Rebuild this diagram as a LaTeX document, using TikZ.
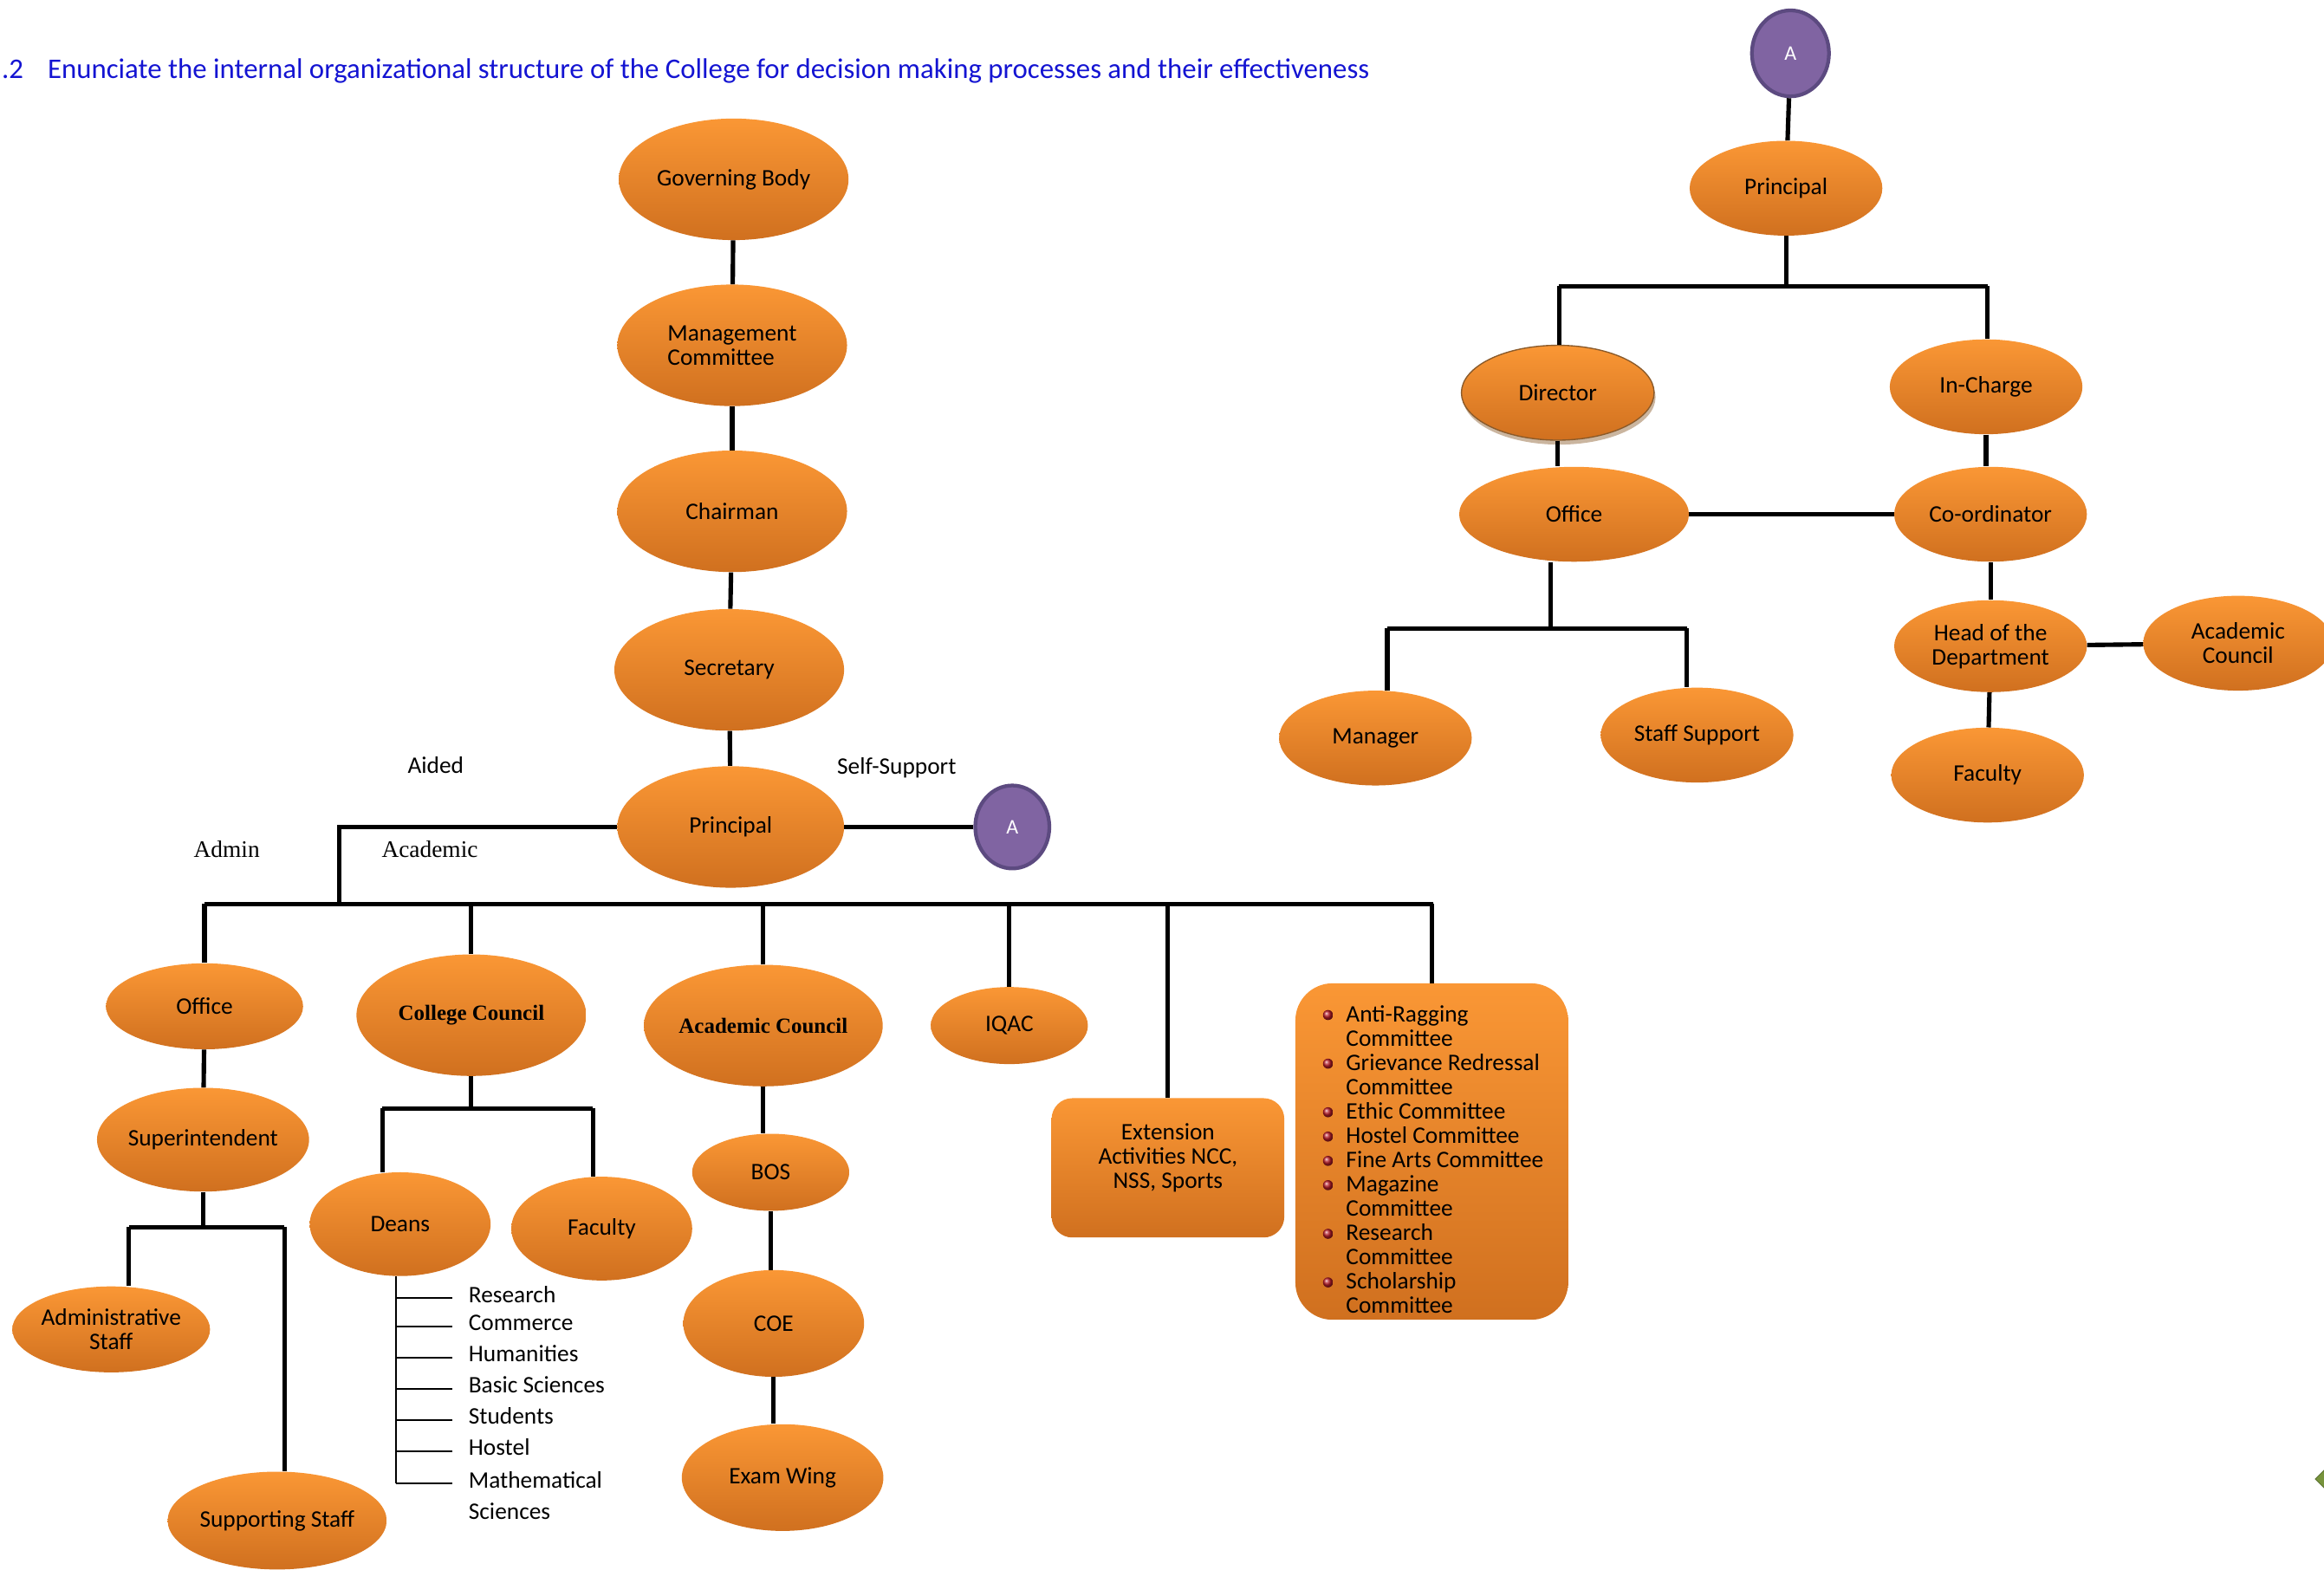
\documentclass[tikz,border=0pt]{standalone}
\usepackage{fontspec}
\setmainfont{Carlito}
\newfontfamily\serifface{Liberation Serif}
\usetikzlibrary{shapes.geometric,shadows,calc}
\definecolor{ortop}{HTML}{FA9735}
\definecolor{orbot}{HTML}{D0701F}
\definecolor{apurple}{HTML}{8064A2}
\definecolor{aedge}{HTML}{5C4A80}
\definecolor{titleblue}{HTML}{1414D2}
\definecolor{bulred}{HTML}{B81C28}
\definecolor{olive}{HTML}{77933C}
\definecolor{diredge}{HTML}{8A5A2A}
\newcommand{\lblsize}{\fontsize{16}{16.4}\selectfont}

\begin{document}
\begin{tikzpicture}[
  x=1pt, y=-1pt,
  font=\lblsize,
  conn/.style={line width=3pt, draw=black},
  thinconn/.style={line width=1.2pt, draw=black},
  oval/.style 2 args={ellipse, top color=ortop, bottom color=orbot, draw=none,
    inner sep=0pt, align=center, minimum width=#1pt, minimum height=#2pt},
  orbox/.style={rectangle, top color=ortop, bottom color=orbot, draw=none, align=center},
  anode/.style={ellipse, fill=apurple, draw=aedge, line width=2.5pt, text=white,
    font=\fontsize{14}{14}\selectfont, inner sep=0pt},
  serifcap/.style={font=\serifface\lblsize},
  boldcap/.style={font=\serifface\bfseries\fontsize{14.6}{15}\selectfont},
  headline/.style={text=titleblue, inner sep=0pt, font=\fontsize{19.2}{20}\selectfont},
  deanitem/.style={anchor=west, inner sep=0pt, text height=1.5ex, text depth=0.3ex},
]
\useasboundingbox (0,0) rectangle (1568,1059);

% heading
\node[headline, anchor=base east] (secno) at (16,53) {.2};
\node[headline, anchor=base west] (title) at (32,53)
  {Enunciate the internal organizational structure of the College for decision making processes and their effectiveness};

% aided chain
\node[oval={155}{82}] (gb) at (495,121) {Governing Body};
\node[oval={155}{82}, align=left] (mc) at (494,233) {Management\\Committee};
\node[oval={155}{82}] (chair) at (494,345) {Chairman};
\node[oval={155}{82}] (sec) at (492,452) {Secretary};
\node[oval={153}{82}] (prin) at (493,558) {Principal};
\node[anode, minimum width=50pt, minimum height=56pt] (aself) at (683,558) {A};
\draw[conn] (gb) -- (mc);
\draw[conn] (mc) -- (chair);
\draw[conn] (chair) -- (sec);
\draw[conn] (sec) -- (prin);
\draw[conn] (prin) -- (aself);

\node (aided) at (294,516) {Aided};
\node (selfsup) at (605,518) {Self-Support};
\node[serifcap] (admin) at (153,573) {Admin};
\node[serifcap] (acad) at (290,573) {Academic};

\coordinate (jprin) at (229,610);
\coordinate (busL) at (138,610);
\coordinate (busR) at (967,610);
\draw[conn] (prin.west) -| (jprin);
\draw[conn] (busL) -- (busR);

% first row under the bus
\node[oval={133}{58}] (aofc) at (138,679) {Office};
\node[oval={155}{82}, boldcap] (cc) at (318,685) {College Council};
\node[oval={155}{82}, boldcap] (acc) at (515,692) {Academic Council};
\node[oval={106}{52}] (iqac) at (681,692) {IQAC};
\node[orbox, rounded corners=14pt, minimum width=157pt, minimum height=94pt] (ext) at (788,788)
  {Extension\\Activities NCC,\\NSS, Sports\\\mbox{}};
\node[orbox, rounded corners=25pt, minimum width=184pt, minimum height=227pt] (com) at (966,777) {};
\foreach \n in {aofc,cc,acc,iqac,ext,com}
  \draw[conn] (\n.north) -- (\n.north |- busL);

% admin side
\node[oval={133}{70}] (supt) at (137,769) {Superintendent};
\draw[conn] (aofc) -- (supt);
\coordinate (sbus) at (137,828);
\coordinate (sbusL) at (87,828);
\coordinate (sbusR) at (192,828);
\draw[conn] (supt.south) -- (sbus);
\draw[conn] (sbusL) -- (sbusR);
\node[oval={132}{58}] (adst) at (75,897) {Administrative\\Staff};
\node[oval={132}{66}] (supst) at (187,1026) {Supporting Staff};
\draw[conn] (sbusL) -- (sbusL |- adst.north);
\draw[conn] (sbusR) -- (sbusR |- supst.north);

% college council
\coordinate (cbus) at (318,748);
\coordinate (cbusL) at (258,748);
\coordinate (cbusR) at (400,748);
\draw[conn] (cc.south) -- (cbus);
\draw[conn] (cbusL) -- (cbusR);
\node[oval={122}{70}] (deans) at (270,826) {Deans};
\node[oval={122}{70}] (fac) at (406,829) {Faculty};
\draw[conn] (cbusL) -- (cbusL |- deans.north);
\draw[conn] (cbusR) -- (cbusR |- fac.north);

\coordinate (dstem) at (267,1001);
\draw[thinconn] (dstem |- deans.south) -- (dstem);
\foreach \t/\yy [count=\i] in {Research/876, Commerce/895, Humanities/916, Basic Sciences/937,
    Students/958, Hostel/979, Mathematical/1001} {
  \node[deanitem] (dl\i) at (316,\yy) {\t};
  \draw[thinconn] (dstem |- dl\i.west) -- ([xshift=-11pt]dl\i.west);
}
\node[deanitem] (dl8) at (316,1022) {Sciences};

% academic council
\node[oval={106}{52}] (bos) at (520,791) {BOS};
\node[oval={122}{72}] (coe) at (522,893) {COE};
\node[oval={136}{72}] (exam) at (528,997) {Exam Wing};
\draw[conn] (acc.south) -- (acc.south |- bos.north);
\draw[conn] (bos.south) -- (bos.south |- coe.north);
\draw[conn] (coe.south) -- (coe.south |- exam.north);

% committees
\foreach \t/\b [count=\i] in {Anti-Ragging/1, Committee/0, Grievance Redressal/1, Committee/0,
    Ethic Committee/1, Hostel Committee/1, Fine Arts Committee/1, Magazine/1, Committee/0,
    Research/1, Committee/0, Scholarship/1, Committee/0} {
  \node[anchor=base west, inner sep=0pt] (cl\i) at (908,{673+16.4*\i}) {\t};
  \ifnum\b=1 \shade[ball color=bulred] ($(cl\i.base west)+(-12,-4.5)$) circle (3.4); \fi
}

% self-support side
\node[anode, minimum width=52pt, minimum height=58pt] (atop) at (1208,36) {A};
\node[oval={130}{64}] (rprin) at (1205,127) {Principal};
\draw[conn] (atop) -- (rprin);
\coordinate (rbus) at (1204,193);
\coordinate (rbusL) at (1052,193);
\coordinate (rbusR) at (1341,193);
\draw[conn] (rprin.south) -- (rprin.south |- rbus);
\draw[conn] (rbusL) -- (rbusR);
\node[oval={130}{64}, draw=diredge, line width=0.8pt,
  drop shadow={opacity=0.45, shadow xshift=1pt, shadow yshift=-3pt, fill=diredge}] (dir) at (1051,265) {Director};
\node[oval={130}{64}] (inch) at (1340,261) {In-Charge};
\draw[conn] (rbusL) -- (rbusL |- dir.north);
\draw[conn] (rbusR) -- (rbusR |- inch.north);
\node[oval={155}{64}] (rofc) at (1062,347) {Office};
\node[oval={130}{64}] (coord) at (1343,347) {Co-ordinator};
\draw[conn] (dir.south) -- (dir.south |- rofc.north);
\draw[conn] (inch.south) -- (inch.south |- coord.north);
\draw[conn] (rofc.east) -- (coord.west);
\coordinate (obus) at (1046,424);
\coordinate (obusL) at (936,424);
\coordinate (obusR) at (1138,424);
\draw[conn] (obus |- rofc.south) -- (obus);
\draw[conn] (obusL) -- (obusR);
\node[oval={130}{64}] (mgr) at (928,498) {Manager};
\node[oval={130}{64}] (stsup) at (1145,496) {Staff Support};
\draw[conn] (obusL) -- (obusL |- mgr.north);
\draw[conn] (obusR) -- (obusR |- stsup.north);
\node[oval={130}{62}] (hod) at (1343,436) {Head of the\\Department};
\node[oval={128}{64}] (racc) at (1510,434) {Academic\\Council};
\node[oval={130}{64}] (rfac) at (1341,523) {Faculty};
\draw[conn] (coord) -- (hod);
\draw[conn] (hod) -- (racc);
\draw[conn] (hod) -- (rfac);

\node[diamond, fill=olive, draw=olive!70!black, minimum size=16pt, inner sep=0pt] (gmark) at (1570,998) {};
\end{tikzpicture}
\end{document}
